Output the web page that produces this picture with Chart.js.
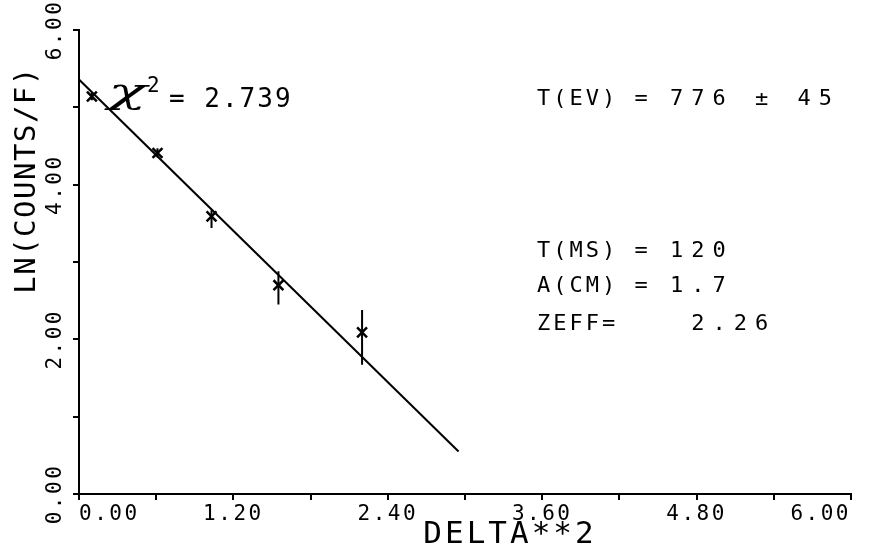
<!DOCTYPE html>
<html>
<head>
<meta charset="utf-8">
<script src="https://cdn.jsdelivr.net/npm/chart.js@4.4.1/dist/chart.umd.min.js"></script>
<style>
    html, body { margin: 0; padding: 0; background: #fff; }
    canvas { display: block; }
</style>
</head>
<body>
<canvas id="lnChart" width="876" height="556"></canvas>
<script>
// measured points: DELTA**2 vs LN(COUNTS/F)
const deltaSq = [0.10, 0.61, 1.03, 1.55, 2.20];
const lnCounts = [5.14, 4.41, 3.59, 2.70, 2.09];
const errLow = [5.09, 4.35, 3.44, 2.45, 1.67];
const errHigh = [5.19, 4.47, 3.67, 2.88, 2.38];

// fitted straight line (end points)
const fitX = [0.00, 2.95];
const fitY = [5.36, 0.55];

// labelled ticks
const xTickLabels = [0, 1.2, 2.4, 3.6, 4.8, 6.0];
const yTickLabels = [0, 2, 4, 6];

// text printed on the plot
const infoLabels = ['T(EV) =', 'T(MS) =', 'A(CM) =', 'ZEFF='];
const infoValues = ['776 ± 45', '120', '1.7', ' 2.26'];
const chiSquare = '2.739';
const xTitle = 'DELTA**2';
const yTitle = 'LN(COUNTS/F)';

const MONO = '"DejaVu Sans Mono", "Liberation Mono", monospace';

document.addEventListener('DOMContentLoaded', function () {
    const markerPoints = deltaSq.map((x, i) => ({ x: x, y: lnCounts[i] }));
    const fitPoints = fitX.map((x, i) => ({ x: x, y: fitY[i] }));

    // each error bar is a short vertical segment, separated by a gap
    const errorBarPoints = [];
    deltaSq.forEach((x, i) => {
        errorBarPoints.push({ x: x, y: errLow[i] }, { x: x, y: errHigh[i] }, { x: x, y: null });
    });

    const plotText = {
        id: 'plotText',
        beforeLayout(chart) { chart.ctx.letterSpacing = '2.5px'; },
        beforeDraw(chart) { chart.ctx.letterSpacing = '2.5px'; },
        afterDraw(chart) {
            const ctx = chart.ctx;
            ctx.save();
            ctx.fillStyle = '#000';
            ctx.textAlign = 'left';
            ctx.textBaseline = 'alphabetic';

            // chi square (wide, flat script chi)
            ctx.letterSpacing = '0px';
            ctx.save();
            ctx.translate(108, 103);
            ctx.scale(1.6, 0.88);
            ctx.font = 'italic 40px "DejaVu Serif", serif';
            ctx.fillText('χ', 0, 0);
            ctx.restore();
            ctx.font = '21px ' + MONO;
            ctx.fillText('2', 147, 92);
            ctx.letterSpacing = '2px';
            ctx.font = '26px ' + MONO;
            ctx.fillText('= ' + chiSquare, 169, 107);

            // parameter block
            const rowY = [105, 257, 292, 330];
            infoLabels.forEach((label, i) => {
                ctx.font = '22px ' + MONO;
                ctx.letterSpacing = '3px';
                ctx.fillText(label, 537, rowY[i]);
                ctx.letterSpacing = '8px';
                ctx.fillText(infoValues[i], 670, rowY[i]);
            });

            // axis titles
            ctx.textAlign = 'center';
            ctx.textBaseline = 'middle';
            ctx.font = '31px ' + MONO;
            ctx.letterSpacing = '3px';
            ctx.fillText(xTitle, 510, 535);

            ctx.translate(27, 180);
            ctx.rotate(-Math.PI / 2);
            ctx.font = '29px ' + MONO;
            ctx.letterSpacing = '1.5px';
            ctx.fillText(yTitle, 0, 0);
            ctx.restore();
        }
    };

    const axisGrid = {
        display: true,
        drawOnChartArea: false,
        drawTicks: true,
        tickLength: 6,
        color: '#000',
        lineWidth: 2
    };

    new Chart(document.getElementById('lnChart'), {
        type: 'scatter',
        data: {
            datasets: [
                {
                    label: 'fit',
                    data: fitPoints,
                    showLine: true,
                    borderColor: '#000',
                    borderWidth: 2,
                    pointRadius: 0
                },
                {
                    label: 'error',
                    data: errorBarPoints,
                    showLine: true,
                    spanGaps: false,
                    borderColor: '#000',
                    borderWidth: 2,
                    pointRadius: 0
                },
                {
                    label: 'data',
                    data: markerPoints,
                    pointStyle: 'crossRot',
                    pointRadius: 7,
                    pointBorderWidth: 2.5,
                    borderColor: '#000',
                    backgroundColor: '#000'
                }
            ]
        },
        options: {
            responsive: false,
            animation: false,
            layout: { padding: { top: 30, right: 25, left: 0, bottom: 0 } },
            plugins: {
                legend: { display: false },
                tooltip: { enabled: false }
            },
            scales: {
                x: {
                    type: 'linear',
                    position: 'bottom',
                    min: 0,
                    max: 6,
                    grid: axisGrid,
                    border: { display: true, color: '#000', width: 2 },
                    afterFit: (scale) => {
                        scale.height = 62;
                        scale.paddingLeft = 0;
                        scale.paddingRight = 0;
                    },
                    ticks: {
                        stepSize: 0.6,
                        autoSkip: false,
                        maxRotation: 0,
                        align: 'inner',
                        padding: 2,
                        color: '#000',
                        font: { family: MONO, size: 21 },
                        callback: (value) => xTickLabels.some(t => Math.abs(t - value) < 1e-6) ? value.toFixed(2) : ''
                    }
                },
                y: {
                    type: 'linear',
                    position: 'left',
                    min: 0,
                    max: 6,
                    grid: axisGrid,
                    border: { display: true, color: '#000', width: 2 },
                    afterFit: (scale) => {
                        scale.width = 79;
                        scale.paddingTop = 0;
                        scale.paddingBottom = 0;
                    },
                    ticks: {
                        stepSize: 1,
                        autoSkip: false,
                        minRotation: 90,
                        maxRotation: 90,
                        crossAlign: 'center',
                        padding: -13,
                        color: '#000',
                        font: { family: MONO, size: 21 },
                        callback: (value) => yTickLabels.includes(value) ? value.toFixed(2) : ''
                    }
                }
            }
        },
        plugins: [plotText]
    });
});
</script>
</body>
</html>
